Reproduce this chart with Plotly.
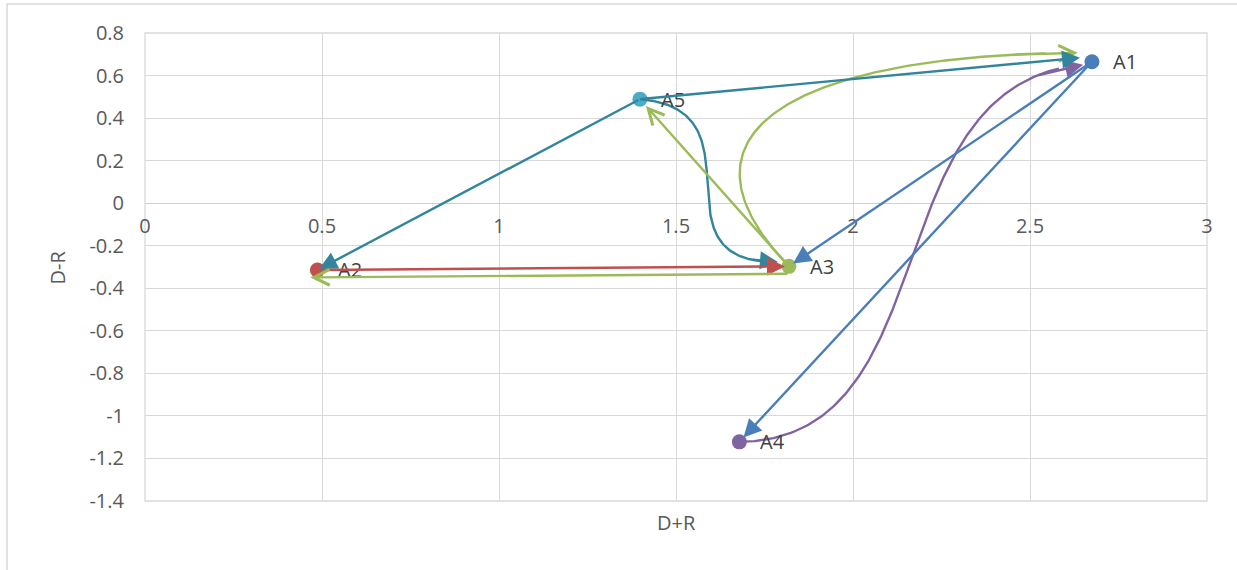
import numpy as np
import plotly.graph_objects as go

# Factor positions: prominence (D+R) on x, relation (D-R) on y
factor_names = ["A1", "A2", "A3", "A4", "A5"]
prominence = [2.675, 0.487, 1.819, 1.679, 1.398]
relation = [0.665, -0.314, -0.297, -1.122, 0.489]
marker_colors = ["#4A7EBB", "#C0504D", "#9BBB59", "#8064A2", "#4BACC6"]

x_tick_values = [0, 0.5, 1, 1.5, 2, 2.5, 3]
x_tick_labels = ["0", "0.5", "1", "1.5", "2", "2.5", "3"]
y_tick_values = [0.8, 0.6, 0.4, 0.2, 0, -0.2, -0.4, -0.6, -0.8, -1, -1.2, -1.4]
y_tick_labels = ["0.8", "0.6", "0.4", "0.2", "0", "-0.2", "-0.4", "-0.6", "-0.8", "-1", "-1.2", "-1.4"]

TEAL = "#31859C"
BLUE = "#4A7EBB"
RED = "#C0504D"
GREEN = "#9BBB59"
PURPLE = "#8064A2"

LINE_W = 2.4

# Straight influence arrows: source, target, colour, head style, standoff (px),
# source shift, target shift (data units, used to separate parallel arrows)
straight_links = [
    ("A5", "A2", TEAL, "solid", 2, (0, 0), (0, 0)),
    ("A5", "A1", TEAL, "solid", 12, (0, 0), (0, 0.024)),
    ("A2", "A3", RED, "solid", 4, (0, 0), (0, 0)),
    ("A3", "A2", GREEN, "open", 0, (0, -0.035), (-0.02, -0.035)),
    ("A3", "A5", GREEN, "open", 9, (0, 0), (0, 0)),
    ("A1", "A3", BLUE, "solid", 5, (0, 0), (0, 0)),
    ("A1", "A4", BLUE, "solid", 6, (0, 0), (0, 0)),
]

# Curved influence arrows drawn as cubic Bezier connectors:
# source, target, colour, head style, first control offset (from source),
# second control offset (from tip), tip offset (from target)
curved_links = [
    ("A5", "A3", TEAL, "solid", (0.36, -0.05), (-0.37, -0.01), (-0.031, 0.021)),
    ("A3", "A1", GREEN, "open", (-0.37, 0.64), (-0.785, -0.009), (-0.040, 0.042)),
    ("A4", "A1", PURPLE, "solid", (0.60, 0.01), (-0.60, -0.09), (-0.025, -0.014)),
]

pos = {n: (x, y) for n, x, y in zip(factor_names, prominence, relation)}

HEADS = {"solid": dict(arrowhead=2, arrowsize=1.5), "open": dict(arrowhead=5, arrowsize=1.3)}

fig = go.Figure()

# Factor markers
fig.add_trace(go.Scatter(
    x=prominence, y=relation, mode="markers",
    marker=dict(size=15, color=marker_colors),
    hoverinfo="skip", showlegend=False,
))

annotations = []

# Factor labels
for n, x, y in zip(factor_names, prominence, relation):
    annotations.append(dict(
        x=x, y=y, xref="x", yref="y", text=n, showarrow=False,
        xanchor="left", yanchor="middle", xshift=19,
        font=dict(family="Open Sans", size=20, color="#404040"),
    ))


def bezier(p0, p1, p2, p3, t):
    t = np.asarray(t)[:, None]
    return ((1 - t) ** 3) * p0 + 3 * ((1 - t) ** 2) * t * p1 + 3 * (1 - t) * t ** 2 * p2 + t ** 3 * p3


for src, dst, color, head, c1, c2, tip in curved_links:
    p0 = np.array(pos[src])
    p3 = np.array(pos[dst]) + np.array(tip)
    p1 = p0 + np.array(c1)
    p2 = p3 + np.array(c2)
    pts = bezier(p0, p1, p2, p3, np.linspace(0, 0.96, 200))
    fig.add_trace(go.Scatter(
        x=pts[:, 0], y=pts[:, 1], mode="lines",
        line=dict(color=color, width=LINE_W), hoverinfo="skip", showlegend=False,
    ))
    tail = bezier(p0, p1, p2, p3, [0.92])[0]
    annotations.append(dict(
        x=p3[0], y=p3[1], ax=tail[0], ay=tail[1], xref="x", yref="y",
        axref="x", ayref="y", text="", showarrow=True, arrowcolor=color,
        arrowwidth=LINE_W, standoff=0, **HEADS[head],
    ))

for src, dst, color, head, standoff, s_off, d_off in straight_links:
    sx, sy = pos[src]
    dx, dy = pos[dst]
    annotations.append(dict(
        x=dx + d_off[0], y=dy + d_off[1], ax=sx + s_off[0], ay=sy + s_off[1],
        xref="x", yref="y", axref="x", ayref="y", text="", showarrow=True,
        arrowcolor=color, arrowwidth=LINE_W, standoff=standoff, **HEADS[head],
    ))

# Axis titles
annotations.append(dict(
    x=0.5, y=-0.045, xref="paper", yref="paper", text="D+R", showarrow=False,
    xanchor="center", yanchor="middle",
    font=dict(family="Open Sans", size=20, color="#595959"),
))
annotations.append(dict(
    x=-0.0824, y=0.5, xref="paper", yref="paper", text="D-R", showarrow=False,
    xanchor="center", yanchor="middle", textangle=-90,
    font=dict(family="Open Sans", size=20, color="#595959"),
))

y_min, y_max = -1.4, 0.8

fig.update_layout(
    width=1237, height=570,
    margin=dict(l=145, r=30, t=33, b=69),
    paper_bgcolor="white", plot_bgcolor="white",
    font=dict(family="Open Sans", size=20, color="#595959"),
    annotations=annotations,
    shapes=[
        dict(type="rect", xref="paper", yref="paper", x0=0, x1=1, y0=0, y1=1,
             line=dict(color="#d9d9d9", width=1.3), layer="below"),
        dict(type="rect", xref="paper", yref="paper", x0=-0.1299, x1=1.04, y0=-0.17, y1=1.062,
             line=dict(color="#d9d9d9", width=1.5), layer="below"),
    ],
    xaxis=dict(
        range=[0, 3], tickvals=x_tick_values, ticktext=x_tick_labels,
        showgrid=True, gridcolor="#d9d9d9", gridwidth=1.3, zeroline=False,
        showline=False, ticks="", anchor="free",
        position=(0 - y_min) / (y_max - y_min), ticklabelstandoff=9,
    ),
    yaxis=dict(
        range=[y_min, y_max], tickvals=y_tick_values, ticktext=y_tick_labels,
        showgrid=True, gridcolor="#d9d9d9", gridwidth=1.3,
        zeroline=True, zerolinecolor="#cfcfcf", zerolinewidth=1.3,
        showline=False, ticks="", ticklabelstandoff=20,
    ),
)

fig.write_html("out.html")
